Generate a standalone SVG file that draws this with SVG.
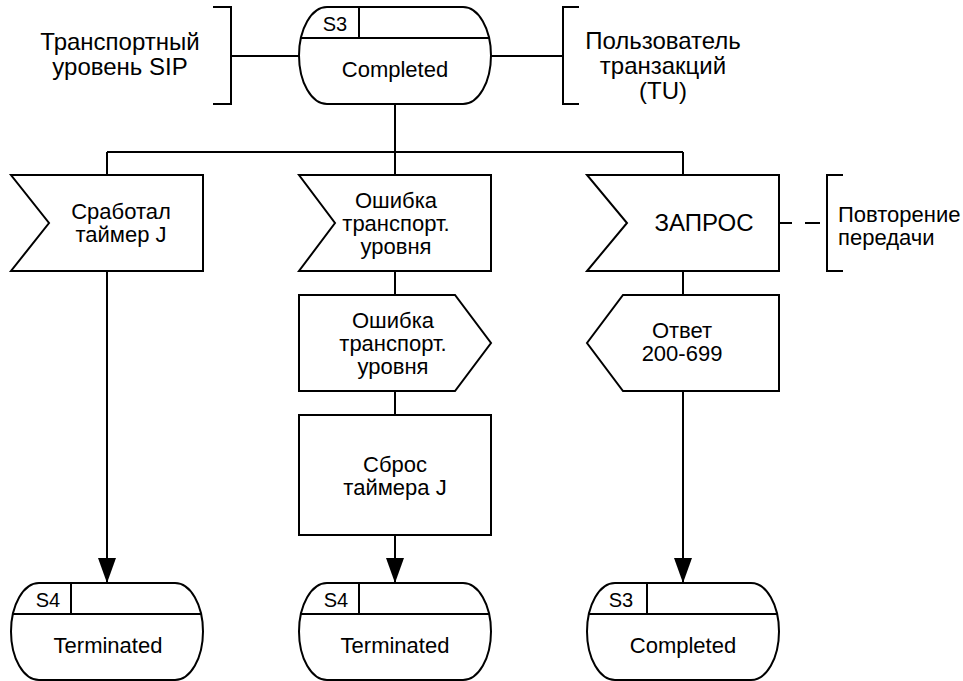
<svg xmlns="http://www.w3.org/2000/svg" width="963" height="681" viewBox="0 0 963 681">
<style>
.s{fill:#fff;stroke:#000;stroke-width:2}
.l{fill:none;stroke:#000;stroke-width:2}
text{font-family:"Liberation Sans",Arial,Helvetica,sans-serif;fill:#000;text-anchor:middle}
.t{font-size:22px}
.lab{font-size:24px}
.sm{font-size:20px}
</style>
<defs>
<marker id="ah" markerUnits="userSpaceOnUse" markerWidth="27" markerHeight="20" refX="25" refY="9" orient="auto">
<path d="M0,0 L25,9 L0,18 Z" fill="#000"/>
</marker>
</defs>
<rect width="963" height="681" fill="#fff"/>

<g id="connectors">
<path class="l" d="M231,56 H299"/>
<path class="l" d="M491,56 H563"/>
<path class="l" d="M395,104 V152"/>
<path class="l" d="M107,152 H683"/>
<path class="l" d="M107,152 V175"/>
<path class="l" d="M395,152 V175"/>
<path class="l" d="M683,152 V175"/>
<path class="l" d="M107,271 V583" marker-end="url(#ah)"/>
<path class="l" d="M395,271 V295"/>
<path class="l" d="M395,391 V415"/>
<path class="l" d="M395,535 V583" marker-end="url(#ah)"/>
<path class="l" d="M683,271 V295"/>
<path class="l" d="M683,391 V583" marker-end="url(#ah)"/>
<path class="l" d="M780,223 H792 M805,223 H820"/>
</g>

<g id="label-sip">
<path class="l" d="M213,7 H231 V104 H213"/>
<text class="lab" x="120" y="50">Транспортный</text>
<text class="lab" x="120" y="75">уровень SIP</text>
</g>

<g id="label-tu">
<path class="l" d="M579,7 H563 V104 H579"/>
<text class="lab" x="663" y="49">Пользователь</text>
<text class="lab" x="663" y="74">транзакций</text>
<text class="lab" x="663" y="99">(TU)</text>
</g>

<g id="state-top">
<path class="s" d="M327,7 H463 A28,48.5 0 0 1 463,104 H327 A28,48.5 0 0 1 327,7 Z"/>
<path class="l" d="M301,38 H489 M359,7 V38"/>
<text class="sm" x="335" y="31">S3</text>
<text class="t" x="395" y="77">Completed</text>
</g>

<g id="input-timer">
<path class="s" d="M11,175 H203 V271 H11 L49,223 Z"/>
<text class="t" x="121" y="219">Сработал</text>
<text class="t" x="121" y="242">таймер J</text>
</g>

<g id="input-error">
<path class="s" d="M299,175 H491 V271 H299 L335,223 Z"/>
<text class="t" x="396" y="208">Ошибка</text>
<text class="t" x="396" y="231">транспорт.</text>
<text class="t" x="396" y="254">уровня</text>
</g>

<g id="input-request">
<path class="s" d="M587,175 H779 V271 H587 L627,223 Z"/>
<text class="lab" x="704" y="231">ЗАПРОС</text>
</g>

<g id="label-retransmit">
<path class="l" d="M843,175 H827 V271 H843"/>
<text class="t" x="838" y="222" style="text-anchor:start">Повторение</text>
<text class="t" x="838" y="245" style="text-anchor:start">передачи</text>
</g>

<g id="output-error">
<path class="s" d="M299,295 H455 L491,343 L455,391 H299 Z"/>
<text class="t" x="393" y="328">Ошибка</text>
<text class="t" x="393" y="351">транспорт.</text>
<text class="t" x="393" y="374">уровня</text>
</g>

<g id="output-response">
<path class="s" d="M623,295 H779 V391 H623 L587,343 Z"/>
<text class="t" x="682" y="338">Ответ</text>
<text class="t" x="682" y="361">200-699</text>
</g>

<g id="task-reset">
<rect class="s" x="299" y="415" width="192" height="120"/>
<text class="t" x="395" y="472">Сброс</text>
<text class="t" x="395" y="495">таймера J</text>
</g>

<g id="state-terminated-1">
<path class="s" d="M39,583 H175 A28,48.5 0 0 1 175,680 H39 A28,48.5 0 0 1 39,583 Z"/>
<path class="l" d="M13,614 H201 M71,583 V614"/>
<text class="sm" x="48" y="607">S4</text>
<text class="t" x="108" y="653">Terminated</text>
</g>

<g id="state-terminated-2">
<path class="s" d="M327,583 H463 A28,48.5 0 0 1 463,680 H327 A28,48.5 0 0 1 327,583 Z"/>
<path class="l" d="M301,614 H489 M359,583 V614"/>
<text class="sm" x="336" y="607">S4</text>
<text class="t" x="395" y="653">Terminated</text>
</g>

<g id="state-completed">
<path class="s" d="M615,583 H751 A28,48.5 0 0 1 751,680 H615 A28,48.5 0 0 1 615,583 Z"/>
<path class="l" d="M589,614 H777 M647,583 V614"/>
<text class="sm" x="621" y="607">S3</text>
<text class="t" x="683" y="653">Completed</text>
</g>
</svg>
